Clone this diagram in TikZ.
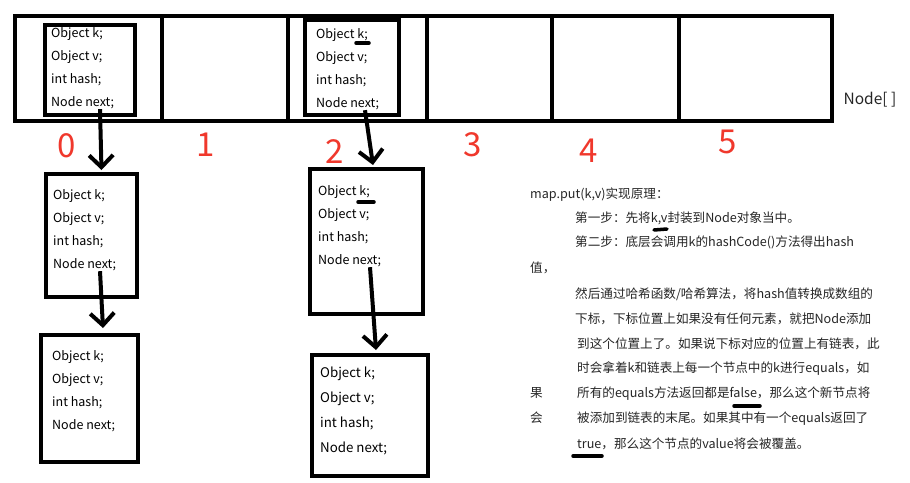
\documentclass[tikz,border=0pt]{standalone}
\usepackage{fontspec}
\setmainfont{Noto Sans CJK SC}
\usepackage{tikz}
\usetikzlibrary{arrows.meta}
\definecolor{cIdx}{HTML}{F0382C}
\definecolor{cTxt}{HTML}{262626}
\newcommand{\fldfont}{\fontsize{12.5}{15}\selectfont}
\newcommand{\idxfont}{\fontsize{33}{36}\selectfont}
\newcommand{\txtfont}{\fontsize{12.6}{15}\selectfont}
\tikzset{
  slot/.style={draw=black, line width=4.5pt, inner sep=0pt},
  nbox/.style={draw=black, line width=4pt, inner sep=0pt},
  fld/.style={anchor=west, inner sep=0pt, font=\fldfont, text height=9pt, text depth=3pt},
  idx/.style={text=cIdx, font=\idxfont, inner sep=0pt},
  txt/.style={anchor=west, inner sep=0pt, font=\txtfont, text=cTxt, text height=9.5pt, text depth=3pt},
  ptr/.style={line width=4pt, -{Straight Barb[length=12pt, width=24pt]}},
  uline/.style={line width=3.5pt, line cap=round},
}
\newcommand{\fields}[4]{\foreach \t [count=\n] in {Object k;, Object v;, int hash;, Node next;}
  {\node[fld] (#1f\n) at (#2, {#3+(\n-1)*#4}) {\t};}}
\newcommand{\mkbox}[5]{\node[nbox, minimum width={#4pt-#2pt}, minimum height={#5pt-#3pt}] (#1) at ({(#2+#4)/2}, {(#3+#5)/2}) {};}

\begin{document}
\begin{tikzpicture}[x=1pt, y=-1pt]
\useasboundingbox[fill=white] (0,0) rectangle (910,482);
\foreach \i/\xa/\xb in {0/15/162, 1/162/288, 2/288/427, 3/427/552, 4/552/679, 5/679/832}
  \node[slot, minimum width={\xb pt-\xa pt}, minimum height=105pt] (s\i) at ({(\xa+\xb)/2}, 68.5) {};
\foreach \i/\x/\y in {0/67/146, 1/206/145, 2/335/152, 3/473/145, 4/589/151, 5/728/142}
  \node[idx] (n\i) at (\x,\y) {\i};
\node[font=\fontsize{15.5}{18}\selectfont, text=cTxt, inner sep=0pt] (arr) at (870,100) {Node[ ]};
\mkbox{e0}{45}{25}{135}{115} \fields{e0}{51}{34}{23}
\mkbox{e2}{305}{20}{399}{115} \fields{e2}{316}{35}{23}
\mkbox{bA}{46}{174}{137}{297} \fields{bA}{53}{196}{23}
\mkbox{bB}{41}{335}{138}{462} \fields{bB}{52}{357}{23.3}
\mkbox{bC}{310}{169}{423}{314} \fields{bC}{318}{192}{23}
\begin{scope}[fld/.append style={font=\fontsize{13.3}{16}\selectfont}]
\mkbox{bD}{312}{355}{428}{476} \fields{bD}{320}{374}{25}
\end{scope}
\draw[ptr] ([xshift=49pt]e0f4.south west) -- ([xshift=10pt,yshift=2pt]bA.north);
\draw[ptr] ([xshift=47pt]bAf4.south west) -- ([xshift=13.5pt,yshift=5pt]bB.north);
\draw[ptr] ([xshift=49pt]e2f4.south west) -- ([xshift=6.5pt,yshift=2pt]bC.north);
\draw[ptr] ([xshift=52pt]bCf4.south west) -- ([xshift=6pt,yshift=3pt]bD.north);
\node[txt] (p1) at (530,195) {map.put(k,v)实现原理：};
\node[txt] (p2) at (575,219) {第一步：先将k,v封装到Node对象当中。};
\node[txt] (p3) at (575,243) {第二步：底层会调用k的hashCode()方法得出hash};
\node[txt] (p4) at (530,269) {值，};
\node[txt] (p5) at (575,295) {然后通过哈希函数/哈希算法，将hash值转换成数组的};
\node[txt] (p6) at (575,320) {下标，下标位置上如果没有任何元素，就把Node添加};
\node[txt] (p7) at (577,345) {到这个位置上了。如果说下标对应的位置上有链表，此};
\node[txt] (p8) at (577,369) {时会拿着k和链表上每一个节点中的k进行equals，如};
\node[txt] (p9) at (577,394) {所有的equals方法返回都是false，那么这个新节点将};
\node[txt] (p10) at (577,419) {被添加到链表的末尾。如果其中有一个equals返回了};
\node[txt] (p11) at (577,445) {true，那么这个节点的value将会被覆盖。};
\node[txt] (q1) at (530,394) {果};
\node[txt] (q2) at (530,419) {会};
\draw[uline] (356,43) -- (369,43);
\draw[uline] (358,202) -- (374,202);
\draw[uline] (654,230) -- (667,229);
\draw[uline] (734,406) -- (760,406);
\draw[uline] (573,456) -- (602,456);
\end{tikzpicture}
\end{document}
